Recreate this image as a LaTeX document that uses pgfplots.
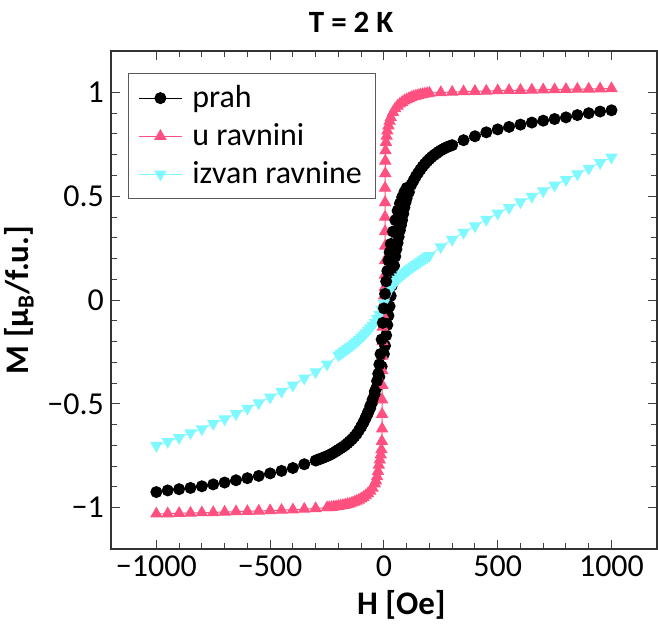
\documentclass[border=0pt]{standalone}
\usepackage{fontspec}
\setmainfont{Carlito}
\usepackage{pgfplots}
\pgfplotsset{compat=1.18}
\usepackage{pgfplotstable}
\definecolor{cpink}{HTML}{FF5080}
\definecolor{ccyan}{HTML}{80F8FF}

\pgfplotstableread{
H M
-1000 -0.925
-950 -0.917
-900 -0.911
-850 -0.905
-800 -0.897
-750 -0.888
-700 -0.879
-650 -0.868
-600 -0.858
-550 -0.847
-500 -0.835
-450 -0.823
-400 -0.809
-350 -0.791
-300 -0.773
-290 -0.769
-280 -0.765
-270 -0.761
-260 -0.756
-250 -0.752
-240 -0.747
-230 -0.741
-220 -0.735
-210 -0.728
-200 -0.721
-190 -0.714
-180 -0.707
-170 -0.699
-160 -0.690
-150 -0.680
-140 -0.670
-130 -0.658
-120 -0.645
-110 -0.628
-100 -0.610
-90 -0.590
-80 -0.568
-70 -0.545
-60 -0.520
-50 -0.490
-40 -0.455
-30 -0.415
-20 -0.370
-10 -0.320
0 -0.260
5 -0.220
10 -0.170
15 -0.120
20 -0.075
25 -0.030
30 0.020
35 0.070
40 0.120
45 0.165
50 0.210
55 0.245
60 0.275
65 0.305
70 0.335
75 0.360
80 0.385
85 0.415
90 0.445
95 0.470
100 0.490
110 0.520
120 0.555
130 0.575
140 0.595
150 0.612
160 0.628
170 0.643
180 0.656
190 0.668
200 0.679
210 0.689
220 0.698
230 0.706
240 0.714
250 0.721
260 0.727
270 0.733
280 0.738
290 0.742
300 0.746
350 0.770
400 0.789
450 0.808
500 0.822
550 0.834
600 0.845
650 0.855
700 0.864
750 0.872
800 0.880
850 0.891
900 0.900
950 0.908
1000 0.914
}\prahup

\pgfplotstableread{
H M
100 0.540
90 0.520
80 0.495
70 0.465
60 0.430
50 0.385
40 0.330
30 0.270
25 0.230
20 0.190
15 0.140
10 0.090
5 0.030
0 -0.040
-5 -0.110
-10 -0.190
-15 -0.260
-20 -0.310
-25 -0.355
-30 -0.390
-40 -0.440
-50 -0.480
-60 -0.510
-70 -0.540
-80 -0.565
-90 -0.590
-100 -0.610
}\prahdown

\pgfplotstableread{
H M
-1000 -1.030
-950 -1.029
-900 -1.027
-850 -1.026
-800 -1.024
-750 -1.023
-700 -1.021
-650 -1.019
-600 -1.018
-550 -1.016
-500 -1.014
-450 -1.012
-400 -1.010
-350 -1.007
-300 -1.004
-250 -1.000
-240 -0.999
-230 -0.998
-220 -0.996
-210 -0.995
-200 -0.993
-190 -0.991
-180 -0.989
-170 -0.987
-160 -0.984
-150 -0.981
-140 -0.977
-130 -0.973
-120 -0.968
-110 -0.963
-100 -0.957
-90 -0.950
-80 -0.942
-70 -0.932
-60 -0.920
-50 -0.905
-40 -0.885
-35 -0.870
-30 -0.850
-26 -0.825
-22 -0.795
-18 -0.770
-14 -0.745
-11 -0.720
-9 -0.680
-8 -0.620
-8 -0.550
-8 -0.480
-7 -0.410
-7 -0.340
-7 -0.270
-6 -0.200
-6 -0.130
-5 -0.070
-3 -0.020
0 0.020
3 0.060
4 0.120
5 0.190
5 0.260
5 0.330
5 0.400
5 0.470
5 0.540
6 0.610
6 0.670
7 0.720
9 0.760
12 0.790
15 0.815
20 0.840
25 0.862
30 0.880
40 0.905
50 0.922
60 0.935
70 0.945
80 0.953
90 0.960
100 0.966
110 0.971
120 0.976
130 0.980
140 0.983
150 0.986
160 0.989
170 0.991
180 0.993
190 0.995
200 0.997
250 1.000
300 1.002
350 1.004
400 1.006
450 1.007
500 1.009
550 1.010
600 1.011
650 1.012
700 1.013
750 1.014
800 1.015
850 1.016
900 1.017
950 1.018
1000 1.019
}\ravnini

\pgfplotstableread{
H M
-1000 -0.701
-950 -0.682
-900 -0.663
-850 -0.640
-800 -0.621
-750 -0.595
-700 -0.573
-650 -0.548
-600 -0.522
-550 -0.496
-500 -0.468
-450 -0.440
-400 -0.410
-350 -0.376
-300 -0.346
-250 -0.309
-200 -0.266
-190 -0.258
-180 -0.250
-170 -0.242
-160 -0.234
-150 -0.226
-140 -0.218
-130 -0.209
-120 -0.200
-110 -0.190
-100 -0.180
-90 -0.170
-80 -0.159
-70 -0.147
-60 -0.135
-50 -0.122
-40 -0.108
-30 -0.090
-20 -0.070
-10 -0.045
0 -0.015
10 0.015
20 0.040
30 0.058
40 0.074
50 0.088
60 0.100
70 0.111
80 0.121
90 0.130
100 0.139
110 0.147
120 0.155
130 0.163
140 0.171
150 0.178
160 0.186
170 0.193
180 0.200
190 0.207
200 0.214
250 0.256
300 0.292
350 0.325
400 0.357
450 0.388
500 0.418
550 0.445
600 0.472
650 0.499
700 0.526
750 0.553
800 0.580
850 0.607
900 0.634
950 0.661
1000 0.688
}\izvan

\begin{document}
\begin{tikzpicture}
\begin{axis}[
  name=ax,
  scale only axis,
  width=273.5pt, height=249.5pt,
  xmin=-1200, xmax=1200, ymin=-1.2, ymax=1.2,
  xtick={-1000,-500,0,500,1000},
  xticklabels={−1000,−500,0,500,1000},
  ytick={-1,-0.5,0,0.5,1},
  yticklabels={−1,−0.5,0,0.5,1},
  minor x tick num=4, minor y tick num=4,
  tick align=inside, tick pos=both,
  xticklabel pos=bottom, yticklabel pos=left,
  major tick length=4.5pt, minor tick length=3pt,
  every tick/.style={black!75, line width=0.5pt},
  axis line style={black!80, line width=0.8pt},
  tick label style={font=\fontsize{16}{19}\selectfont},
  label style={font=\fontsize{16.5}{19}\selectfont\bfseries},
  xlabel={H [Oe]},
  ylabel={M [μ\textsubscript{B}/f.u.]},
  xlabel style={at={(ticklabel cs:0.532)}},
  title={T = 2 K},
  title style={font=\fontsize{15.5}{18}\selectfont\bfseries, at={(0.44,1)}, anchor=base, yshift=3pt},
  legend style={at={(0.031,0.956)}, anchor=north west, draw=black!65, line width=0.7pt,
    font=\fontsize{16}{19}\selectfont, row sep=2.5pt, column sep=3pt, inner xsep=5pt, inner ysep=4pt},
  legend cell align=left,
  legend image code/.code={\draw[mark repeat=2,mark phase=2] plot coordinates {(0pt,0pt) (10.75pt,0pt) (21.5pt,0pt)};},
]
\addplot[black, line width=0.5pt, mark=*, mark size=2.75pt] table[x=H,y=M] {\prahup};
\addlegendentry{prah}
\addplot[cpink, line width=0.5pt, mark=triangle*, mark size=3.1pt, mark options={fill=cpink, draw=cpink}] table[x=H,y=M] {\ravnini};
\addlegendentry{u ravnini}
\addplot[ccyan, line width=0.5pt, mark=triangle*, mark size=3.1pt, mark options={rotate=180, fill=ccyan, draw=ccyan}] table[x=H,y=M] {\izvan};
\addlegendentry{izvan ravnine}
\addplot[black, line width=0.5pt, mark=*, mark size=2.75pt, forget plot] table[x=H,y=M] {\prahdown};
\end{axis}
\pgfresetboundingbox
\path ([shift={(-55.5pt,-42pt)}]ax.south west) rectangle ([shift={(0.5pt,25.5pt)}]ax.north east);
\end{tikzpicture}
\end{document}
